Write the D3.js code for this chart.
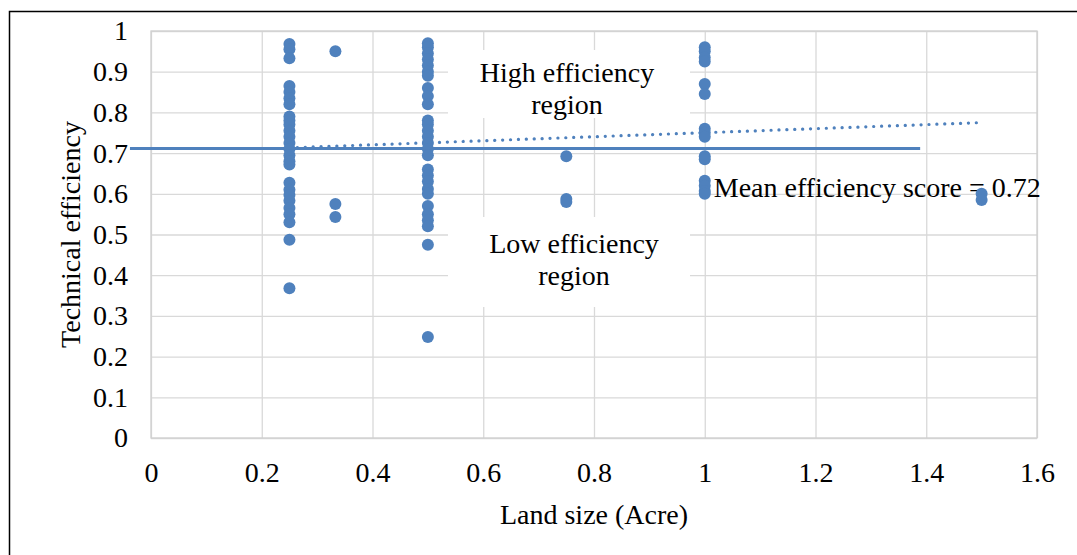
<!DOCTYPE html>
<html>
<head>
<meta charset="utf-8">
<script src="https://cdn.jsdelivr.net/npm/d3@7"></script>
<style>
  body { margin: 0; background: #fff; }
  text { font-family: 'Liberation Serif', 'Times New Roman', serif; fill: #000; }
</style>
</head>
<body>
<script>
/* global d3 */

// land size (acre) for each column of points
const landSizes = [0.25, 0.333, 0.5, 0.75, 1, 1.5];

// technical efficiency scores read per column
const eff025 = [0.968, 0.955, 0.933, 0.865, 0.85, 0.835, 0.82, 0.79, 0.78, 0.77, 0.755,
  0.74, 0.725, 0.71, 0.695, 0.68, 0.672, 0.627, 0.61, 0.597, 0.583, 0.565, 0.55, 0.53,
  0.487, 0.368];
const eff033 = [0.95, 0.575, 0.543];
const eff050 = [0.97, 0.96, 0.945, 0.93, 0.915, 0.9, 0.89, 0.86, 0.84, 0.82, 0.78, 0.77,
  0.755, 0.74, 0.725, 0.71, 0.695, 0.66, 0.645, 0.63, 0.612, 0.6, 0.57, 0.55, 0.535,
  0.52, 0.475, 0.248];
const eff075 = [0.692, 0.587, 0.58];
const eff100 = [0.96, 0.95, 0.935, 0.925, 0.87, 0.845, 0.76, 0.75, 0.74, 0.692, 0.685,
  0.632, 0.62, 0.607, 0.6];
const eff150 = [0.6, 0.585];
const effSeries = [eff025, eff033, eff050, eff075, eff100, eff150];

const xTicks = [0, 0.2, 0.4, 0.6, 0.8, 1, 1.2, 1.4, 1.6];
const yTicks = [0, 0.1, 0.2, 0.3, 0.4, 0.5, 0.6, 0.7, 0.8, 0.9, 1];

// mean line drawn across the plot, and linear trend (dotted)
const meanScore = 0.711;
const meanSpan = [-0.038, 1.389];
const trendSpan = [0.25, 1.5];
const trendCoef = [0.7006, 0.0496];

const points = [];
landSizes.forEach((x, i) => effSeries[i].forEach((y) => points.push({ x, y })));

const W = 1077;
const H = 555;
const margin = { top: 31, right: 40, bottom: 117, left: 151 };
const width = W - margin.left - margin.right;
const height = H - margin.top - margin.bottom;
const blue = '#4f81bd';
const fs = '28px';

const svg = d3.select('body').append('svg')
  .attr('width', W)
  .attr('height', H);

// outer frame
svg.append('rect')
  .attr('x', 9.5).attr('y', 11.5)
  .attr('width', W + 20).attr('height', H + 20)
  .attr('fill', 'none')
  .attr('stroke', '#000')
  .attr('stroke-width', 1.5);

const g = svg.append('g')
  .attr('transform', `translate(${margin.left}, ${margin.top})`);

const xScale = d3.scaleLinear().domain([0, 1.6]).range([0, width]);
const yScale = d3.scaleLinear().domain([0, 1]).range([height, 0]);

// gridlines
g.append('g')
  .call(d3.axisLeft(yScale).tickValues(yTicks).tickSize(-width).tickFormat(''))
  .call((a) => a.select('.domain').remove())
  .selectAll('line').attr('stroke', '#d9d9d9').attr('stroke-width', 1.3);
g.append('g')
  .attr('transform', `translate(0, ${height})`)
  .call(d3.axisBottom(xScale).tickValues(xTicks).tickSize(-height).tickFormat(''))
  .call((a) => a.select('.domain').remove())
  .selectAll('line').attr('stroke', '#d9d9d9').attr('stroke-width', 1.3);

// plot border
g.append('rect')
  .attr('width', width).attr('height', height)
  .attr('fill', 'none')
  .attr('stroke', '#d0d0d0')
  .attr('stroke-width', 1.3);

// tick labels
const yAxis = g.append('g')
  .call(d3.axisLeft(yScale).tickValues(yTicks).tickSize(0).tickPadding(23)
    .tickFormat((d) => String(d)));
yAxis.select('.domain').remove();
yAxis.selectAll('text').style('font-size', fs)
  .style('font-family', "'Liberation Serif', serif");

const xAxis = g.append('g')
  .attr('transform', `translate(0, ${height})`)
  .call(d3.axisBottom(xScale).tickValues(xTicks).tickSize(0).tickPadding(24)
    .tickFormat((d) => String(d)));
xAxis.select('.domain').remove();
xAxis.selectAll('text').style('font-size', fs)
  .style('font-family', "'Liberation Serif', serif");

// axis titles
svg.append('text')
  .attr('x', margin.left + xScale(0.8))
  .attr('y', 524)
  .style('text-anchor', 'middle')
  .style('font-size', fs)
  .text('Land size (Acre)');

svg.append('text')
  .attr('transform', `translate(80, ${margin.top + yScale(0.5)}) rotate(-90)`)
  .style('text-anchor', 'middle')
  .style('font-size', fs)
  .text('Technical efficiency');

// region labels on white boxes
function regionLabel(cx, top, h, base, lines) {
  g.append('rect')
    .attr('x', 297).attr('y', top)
    .attr('width', 242).attr('height', h)
    .attr('fill', '#fff');
  lines.forEach((t, i) => {
    g.append('text')
      .attr('x', cx)
      .attr('y', base + i * 32)
      .style('text-anchor', 'middle')
      .style('font-size', fs)
      .text(t);
  });
}
regionLabel(416, 19, 68, 51, ['High efficiency', 'region']);
regionLabel(423, 186, 90, 222, ['Low efficiency', 'region']);

// mean line
g.append('line')
  .attr('x1', xScale(meanSpan[0])).attr('x2', xScale(meanSpan[1]))
  .attr('y1', yScale(meanScore)).attr('y2', yScale(meanScore))
  .attr('stroke', blue)
  .attr('stroke-width', 3);

g.append('text')
  .attr('x', xScale(1) + 9)
  .attr('y', yScale(0.6) + 3)
  .style('font-size', fs)
  .text('Mean efficiency score = 0.72');

// dotted linear trend
const trend = (x) => trendCoef[0] + trendCoef[1] * x;
g.append('line')
  .attr('x1', xScale(trendSpan[0])).attr('x2', xScale(trendSpan[1]))
  .attr('y1', yScale(trend(trendSpan[0]))).attr('y2', yScale(trend(trendSpan[1])))
  .attr('stroke', blue)
  .attr('stroke-width', 3.2)
  .attr('stroke-linecap', 'round')
  .attr('stroke-dasharray', '0.1 7.8');

// points
g.selectAll('circle.pt')
  .data(points)
  .join('circle')
  .attr('class', 'pt')
  .attr('cx', (d) => xScale(d.x))
  .attr('cy', (d) => yScale(d.y))
  .attr('r', 6)
  .attr('fill', blue);
</script>
</body>
</html>
